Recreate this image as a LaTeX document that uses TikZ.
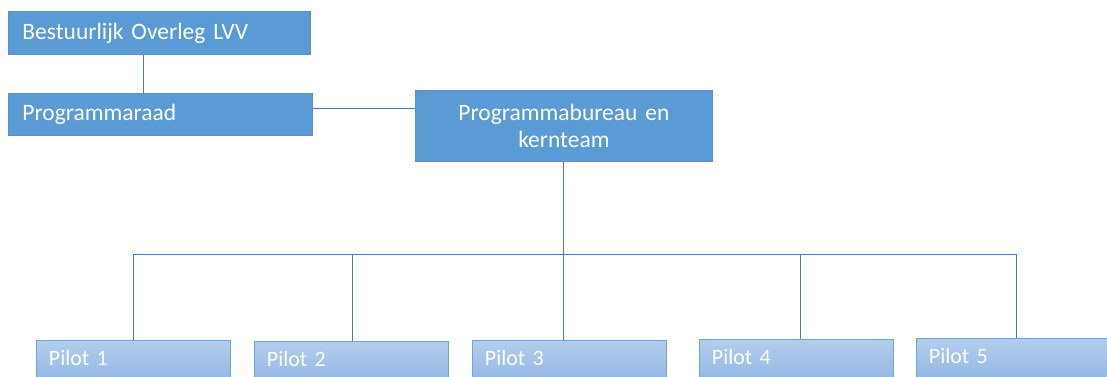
\documentclass[tikz,border=0pt]{standalone}
\usepackage{fontspec}
\setmainfont{Carlito}
\definecolor{boxfill}{HTML}{5B9BD5}
\definecolor{boxedge}{HTML}{5A8FCB}
\definecolor{piltop}{HTML}{B3CDEC}
\definecolor{pilbot}{HTML}{7FA9DE}
\definecolor{piledge}{HTML}{6FA3DC}
\definecolor{linec}{HTML}{4A76C8}
\begin{document}
\begin{tikzpicture}[x=1pt,y=-1pt,
  mainbox/.style={draw=boxedge, fill=boxfill, line width=0.8pt, text=white, font=\fontsize{23.5}{26.5}\selectfont, inner sep=0pt, anchor=north west},
  pilotbox/.style={draw=piledge, top color=piltop, bottom color=pilbot, line width=0.8pt, text=white, font=\fontsize{22}{26}\selectfont, text height=14pt, text depth=30pt, inner ysep=11pt, text width=169pt, align=left, inner xsep=12.5pt, anchor=north west},
  conn/.style={draw=linec, line width=1pt}]
\useasboundingbox (0,0) rectangle (1107,376);
\node[mainbox, minimum width=302pt, minimum height=43pt, text width=274pt, align=left, inner xsep=14pt] (b1) at (8,11) {Bestuurlijk Overleg LVV};
\node[mainbox, minimum width=304pt, minimum height=42pt, text width=276pt, align=left, inner xsep=14pt] (b2) at (8,93) {Programmaraad};
\node[mainbox, minimum width=297pt, minimum height=71pt, text width=297pt, align=center] (b3) at (415,90) {Programmabureau en\\kernteam};
\node[pilotbox] (p1) at (36,340) {Pilot 1};
\node[pilotbox] (p2) at (254,341) {Pilot 2};
\node[pilotbox] (p3) at (472,340) {Pilot 3};
\node[pilotbox] (p4) at (699,339) {Pilot 4};
\node[pilotbox] (p5) at (916,338) {Pilot 5};
\coordinate (bus) at (0,254);
\draw[conn] ([xshift=135pt]b1.south west) -- ([xshift=135pt]b2.north west);
\draw[conn] ([yshift=6pt]b2.east) -- ([yshift=17.5pt]b3.west);
\draw[conn] (b3.south) -- (b3.south |- bus);
\draw[conn] (p1.north |- bus) -- ([xshift=3pt]p5.north |- bus);
\draw[conn] (p1.north |- bus) -- (p1.north);
\draw[conn] ([xshift=1pt]p2.north |- bus) -- ([xshift=1pt]p2.north);
\draw[conn] (b3.south |- bus) -- (b3.south |- p3.north);
\draw[conn] ([xshift=4pt]p4.north |- bus) -- ([xshift=4pt]p4.north);
\draw[conn] ([xshift=3pt]p5.north |- bus) -- ([xshift=3pt]p5.north);
\end{tikzpicture}
\end{document}
